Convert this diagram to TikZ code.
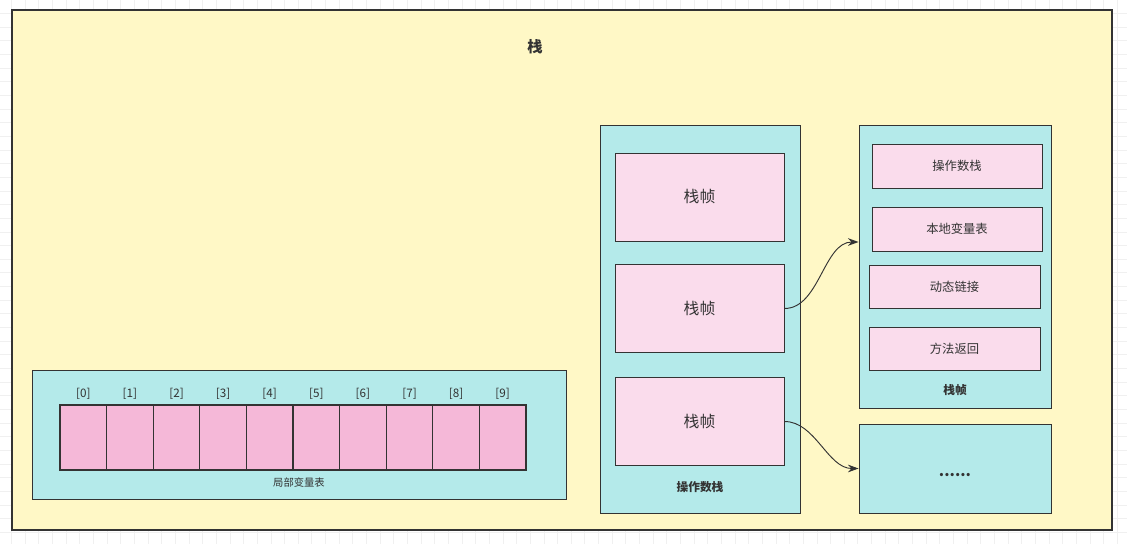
\documentclass[tikz,border=0pt]{standalone}
\usepackage{fontspec}
\setmainfont{Noto Sans CJK SC}
\usetikzlibrary{arrows.meta,calc}
\definecolor{stackbg}{HTML}{FFF8C6}
\definecolor{cyanbox}{HTML}{B4EAEA}
\definecolor{cellpink}{HTML}{F5B8D8}
\definecolor{framepink}{HTML}{FADCEC}
\definecolor{inkgray}{HTML}{333333}

\begin{document}
\begin{tikzpicture}[x=0.03cm,y=-0.03cm,
  every node/.style={text=inkgray},
  panel/.style={draw=inkgray,line width=0.8pt,fill=cyanbox,inner sep=0pt},
  cellbox/.style={draw=inkgray,line width=0.9pt,fill=cellpink,minimum width=1.398cm,minimum height=1.95cm,inner sep=0pt},
  framebox/.style={draw=inkgray,line width=0.8pt,fill=framepink,inner sep=0pt},
  link/.style={draw=inkgray,line width=0.8pt,-{Stealth[length=9pt,width=6.5pt]}}]
\useasboundingbox (0,0) rectangle (1127,544);
% canvas grid
\foreach \gx in {11.4,25.05,...,1127} \draw[black!6,line width=0.4pt] (\gx,0) -- (\gx,544);
\foreach \gy in {-0.3,13.35,...,544} \draw[black!6,line width=0.4pt] (0,\gy) -- (1127,\gy);
% outer stack
\node[draw=inkgray,line width=1.2pt,fill=stackbg,minimum width=33cm,minimum height=15.6cm] (stack) at (562,270) {};
\node[font=\bfseries\fontsize{13}{15}\selectfont] (title) at (535,47) {栈};
% local variable table
\node[panel,minimum width=16.02cm,minimum height=3.87cm] (locals) at (299,434.5) {};
\foreach \i in {0,...,9} {
  \node[cellbox] (cell\i) at ({60+46.6*(\i+0.5)},437.5) {};
  \node[font=\fontsize{10}{11}\selectfont,above=1pt] (idx\i) at (cell\i.north) {[\i]};
}
\node[font=\fontsize{8.8}{10}\selectfont] (localslabel) at (299,483) {局部变量表};
% operand stack with frames
\node[panel,minimum width=6cm,minimum height=11.64cm] (opstack) at (700,319) {};
\node[framebox,minimum width=5.07cm,minimum height=2.64cm,font=\fontsize{13.5}{15}\selectfont] (frameA) at (699.5,197) {栈帧};
\node[framebox,minimum width=5.07cm,minimum height=2.64cm,font=\fontsize{13.5}{15}\selectfont] (frameB) at (699.5,308.5) {栈帧};
\node[framebox,minimum width=5.07cm,minimum height=2.64cm,font=\fontsize{13.5}{15}\selectfont] (frameC) at (699.5,421.5) {栈帧};
\node[font=\bfseries\fontsize{10}{11}\selectfont] (oplabel) at (700,487) {操作数栈};
% frame detail
\node[panel,minimum width=5.76cm,minimum height=8.49cm] (detail) at (955,266.5) {};
\node[framebox,minimum width=5.1cm,minimum height=1.32cm,font=\fontsize{10.5}{12}\selectfont] (partA) at (957,166) {操作数栈};
\node[framebox,minimum width=5.1cm,minimum height=1.32cm,font=\fontsize{10.5}{12}\selectfont] (partB) at (957,229) {本地变量表};
\node[framebox,minimum width=5.13cm,minimum height=1.29cm,font=\fontsize{10.5}{12}\selectfont] (partC) at (954.5,286.5) {动态链接};
\node[framebox,minimum width=5.13cm,minimum height=1.29cm,font=\fontsize{10.5}{12}\selectfont] (partD) at (954.5,348.5) {方法返回};
\node[font=\bfseries\fontsize{10}{11}\selectfont] (detaillabel) at (955,390) {栈帧};
\node[panel,minimum width=5.76cm,minimum height=2.67cm] (more) at (955,468.5) {};
\node[font=\bfseries\fontsize{13}{14}\selectfont] (dots) at (955,475) {......};
% links
\draw[link] (frameB.east) to[out=0,in=180,looseness=0.9] ([yshift=0.735cm]detail.west);
\draw[link] (frameC.east) to[out=0,in=180,looseness=0.9] (more.west);
\end{tikzpicture}
\end{document}
